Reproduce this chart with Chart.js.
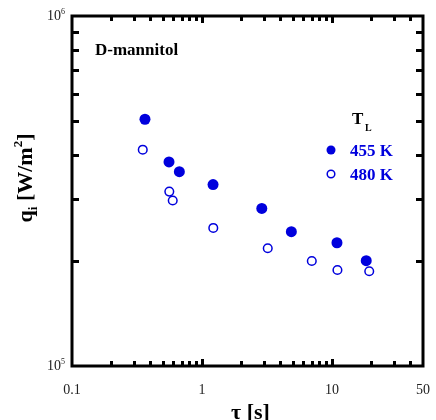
<!DOCTYPE html>
<html>
<head>
<meta charset="utf-8">
<script src="https://cdn.jsdelivr.net/npm/chart.js@4.4.1/dist/chart.umd.min.js"></script>
<style>
  html, body { margin: 0; padding: 0; background: #fff; }
  #wrap { width: 436px; height: 420px; position: relative; }
</style>
</head>
<body>
<div id="wrap"><canvas id="chart"></canvas></div>
<script>
// data (tau in s, q_i in W/m2)
const tau455 = [0.364, 0.557, 0.669, 1.215, 2.88, 4.86, 10.9, 18.3];
const q455 = [507000, 383000, 359000, 330000, 282000, 242000, 225000, 200000];
const tau480 = [0.35, 0.56, 0.595, 1.22, 3.2, 6.98, 10.99, 19.3];
const q480 = [415000, 315000, 297000, 248000, 217000, 199500, 188000, 186500];

const seriesLabels = ['455 K', '480 K'];
const xTickValues = [0.1, 1, 10, 50];
const xTickLabels = ['0.1', '1', '10', '50'];
const yTickValues = [1e5, 1e6];
const yTickExps = ['5', '6'];

const BLUE = '#0000dd';
const SERIF = '"Liberation Serif", "DejaVu Serif", serif';

function toPoints(xs, ys) {
    return xs.map((x, i) => ({ x: x, y: ys[i] }));
}

// inward ticks for a log scale: 2..9 in each decade
function minorTicks(min, max) {
    const out = [];
    for (let d = Math.pow(10, Math.floor(Math.log10(min))); d < max; d *= 10) {
        for (let k = 1; k <= 9; k++) {
            const v = +(k * d).toPrecision(6);
            if (v > min && v < max) out.push({ v: v, major: k === 1 });
        }
    }
    return out;
}

const framePlugin = {
    id: 'frame',
    afterDraw(chart) {
        const ctx = chart.ctx;
        const a = chart.chartArea;
        const xs = chart.scales.x;
        const ys = chart.scales.y;
        ctx.save();

        // ticks
        ctx.strokeStyle = '#000';
        ctx.lineWidth = 3;
        ctx.lineCap = 'butt';
        minorTicks(xs.min, xs.max).forEach(t => {
            const px = Math.round(xs.getPixelForValue(t.v)) + 0.5;
            const len = t.major ? 7 : 5;
            ctx.beginPath();
            ctx.moveTo(px, a.bottom);
            ctx.lineTo(px, a.bottom - len);
            ctx.moveTo(px, a.top);
            ctx.lineTo(px, a.top + len);
            ctx.stroke();
        });
        minorTicks(ys.min, ys.max).forEach(t => {
            const py = Math.round(ys.getPixelForValue(t.v)) + 0.5;
            const len = t.major ? 9 : 7;
            ctx.beginPath();
            ctx.moveTo(a.left, py);
            ctx.lineTo(a.left + len, py);
            ctx.moveTo(a.right, py);
            ctx.lineTo(a.right - len, py);
            ctx.stroke();
        });

        // frame
        ctx.lineWidth = 3;
        ctx.strokeRect(a.left, a.top, a.right - a.left, a.bottom - a.top);

        // x tick labels
        ctx.fillStyle = '#222';
        ctx.font = '14px ' + SERIF;
        ctx.textAlign = 'center';
        ctx.textBaseline = 'alphabetic';
        xTickValues.forEach((v, i) => {
            ctx.fillText(xTickLabels[i], xs.getPixelForValue(v), a.bottom + 28);
        });

        // y tick labels 10^n
        yTickValues.forEach((v, i) => {
            const py = ys.getPixelForValue(v);
            ctx.font = '8px ' + SERIF;
            ctx.textAlign = 'right';
            const ew = ctx.measureText(yTickExps[i]).width;
            ctx.fillText(yTickExps[i], a.left - 7, py - 2);
            ctx.font = '14px ' + SERIF;
            ctx.fillText('10', a.left - 7 - ew, py + 4);
        });

        // axis titles
        ctx.fillStyle = '#000';
        ctx.font = 'bold 22px ' + SERIF;
        ctx.textAlign = 'center';
        ctx.fillText('\u03c4 [s]', (a.left + a.right) / 2 + 3, 419);

        ctx.save();
        ctx.translate(32, 178);
        ctx.rotate(-Math.PI / 2);
        const parts = [
            { t: 'q', f: 'bold 22px ', dy: 0 },
            { t: 'i', f: 'bold 13px ', dy: 5 },
            { t: ' [W/m', f: 'bold 22px ', dy: 0 },
            { t: '2', f: 'bold 13px ', dy: -10 },
            { t: ']', f: 'bold 22px ', dy: 0 }
        ];
        let total = 0;
        parts.forEach(p => { ctx.font = p.f + SERIF; p.w = ctx.measureText(p.t).width; total += p.w; });
        let cx = -total / 2;
        ctx.textAlign = 'left';
        parts.forEach(p => {
            ctx.font = p.f + SERIF;
            ctx.fillText(p.t, cx, p.dy);
            cx += p.w;
        });
        ctx.restore();

        // panel label
        ctx.font = 'bold 17px ' + SERIF;
        ctx.textAlign = 'left';
        ctx.fillText('D-mannitol', 95, 55);

        // legend
        ctx.font = 'bold 17px ' + SERIF;
        ctx.fillText('T', 352, 124);
        ctx.font = 'bold 10px ' + SERIF;
        ctx.fillText('L', 365, 131);

        const legendY = [150, 174];
        chart.data.datasets.forEach((ds, i) => {
            ctx.beginPath();
            ctx.arc(331, legendY[i], i === 0 ? 4.5 : 3.8, 0, Math.PI * 2);
            if (i === 0) {
                ctx.fillStyle = BLUE;
                ctx.fill();
            } else {
                ctx.strokeStyle = BLUE;
                ctx.lineWidth = 1.5;
                ctx.stroke();
            }
            ctx.fillStyle = BLUE;
            ctx.font = 'bold 17px ' + SERIF;
            ctx.fillText(ds.label, 350, legendY[i] + 6);
        });

        ctx.restore();
    }
};

new Chart(document.getElementById('chart'), {
    type: 'scatter',
    data: {
        datasets: [
            {
                label: seriesLabels[0],
                data: toPoints(tau455, q455),
                pointStyle: 'circle',
                pointRadius: 5.5,
                backgroundColor: BLUE,
                borderColor: BLUE,
                borderWidth: 0
            },
            {
                label: seriesLabels[1],
                data: toPoints(tau480, q480),
                pointStyle: 'circle',
                pointRadius: 4.3,
                backgroundColor: 'rgba(255,255,255,0)',
                borderColor: BLUE,
                borderWidth: 1.5
            }
        ]
    },
    options: {
        responsive: true,
        maintainAspectRatio: false,
        animation: false,
        layout: {
            padding: { left: 72, right: 13, top: 16, bottom: 54 }
        },
        plugins: {
            legend: { display: false },
            tooltip: { enabled: false }
        },
        scales: {
            x: { type: 'logarithmic', min: 0.1, max: 50, display: false },
            y: { type: 'logarithmic', min: 1e5, max: 1e6, display: false }
        }
    },
    plugins: [framePlugin]
});
</script>
</body>
</html>
